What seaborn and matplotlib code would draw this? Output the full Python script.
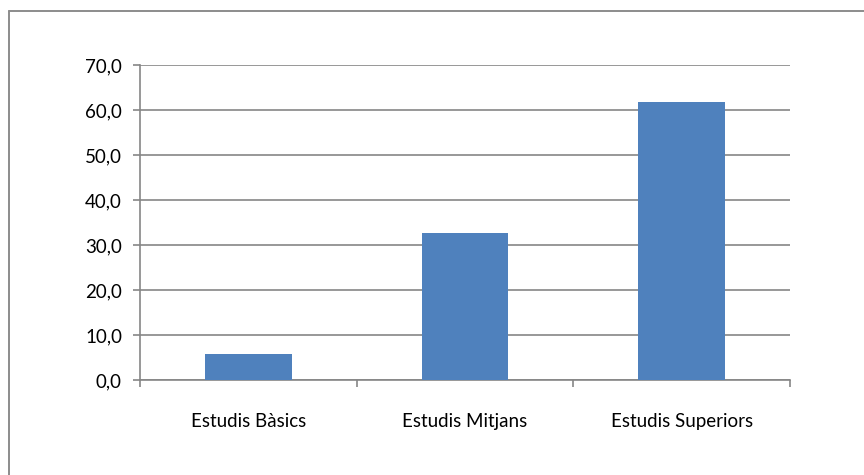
import matplotlib
matplotlib.use("Agg")
import matplotlib.pyplot as plt
import seaborn as sns
import pandas as pd
from matplotlib.lines import Line2D
from matplotlib.ticker import FixedLocator, FuncFormatter

# data
categories = ["Estudis Bàsics", "Estudis Mitjans", "Estudis Superiors"]
values = [5.8, 32.7, 61.7]
yticks = [0, 10, 20, 30, 40, 50, 60, 70]

df = pd.DataFrame({"cat": categories, "val": values})

sns.set_style("white")
plt.rcParams["font.family"] = ["Lato", "DejaVu Sans"]

fig = plt.figure(figsize=(8.64, 4.75), dpi=100)
ax = fig.add_axes([140 / 864, 1 - 380 / 475, 650 / 864, 315 / 475])

sns.barplot(data=df, x="cat", y="val", color="#4F81BD", saturation=1,
            width=0.4, linewidth=0, ax=ax, zorder=3)

ax.set_xlim(-0.5, 2.5)
ax.set_ylim(0, 70)
ax.set_yticks(yticks)
ax.yaxis.set_major_formatter(FuncFormatter(lambda v, p: f"{v:.1f}".replace(".", ",")))
ax.grid(axis="y", color="#868686", linewidth=1.2, zorder=0)
ax.set_axisbelow(True)
ax.set_xlabel("")
ax.set_ylabel("")

for s in ["top", "right"]:
    ax.spines[s].set_visible(False)
for s in ["left", "bottom"]:
    ax.spines[s].set_color("#868686")
    ax.spines[s].set_linewidth(1.2)

ax.tick_params(axis="y", direction="out", length=5, color="#868686", width=1.2,
               labelsize=13.5, pad=8, left=True, labelcolor="black")
ax.tick_params(axis="x", which="major", length=0, labelsize=13.5, pad=24,
               labelcolor="black")
ax.xaxis.set_minor_locator(FixedLocator([-0.5, 0.5, 1.5, 2.5]))
ax.tick_params(axis="x", which="minor", direction="out", length=5,
               color="#868686", width=1.2, bottom=True)

# outer chart border (only top and left edges are visible, the rest is cropped)
bx, by = 8.5 / 864, 1 - 10.5 / 475
fig.add_artist(Line2D([bx, 1.0], [by, by], transform=fig.transFigure,
                      color="#8c8c8c", linewidth=1.4))
fig.add_artist(Line2D([bx, bx], [0.0, by], transform=fig.transFigure,
                      color="#8c8c8c", linewidth=1.4))

fig.savefig("out.png", dpi=100)
